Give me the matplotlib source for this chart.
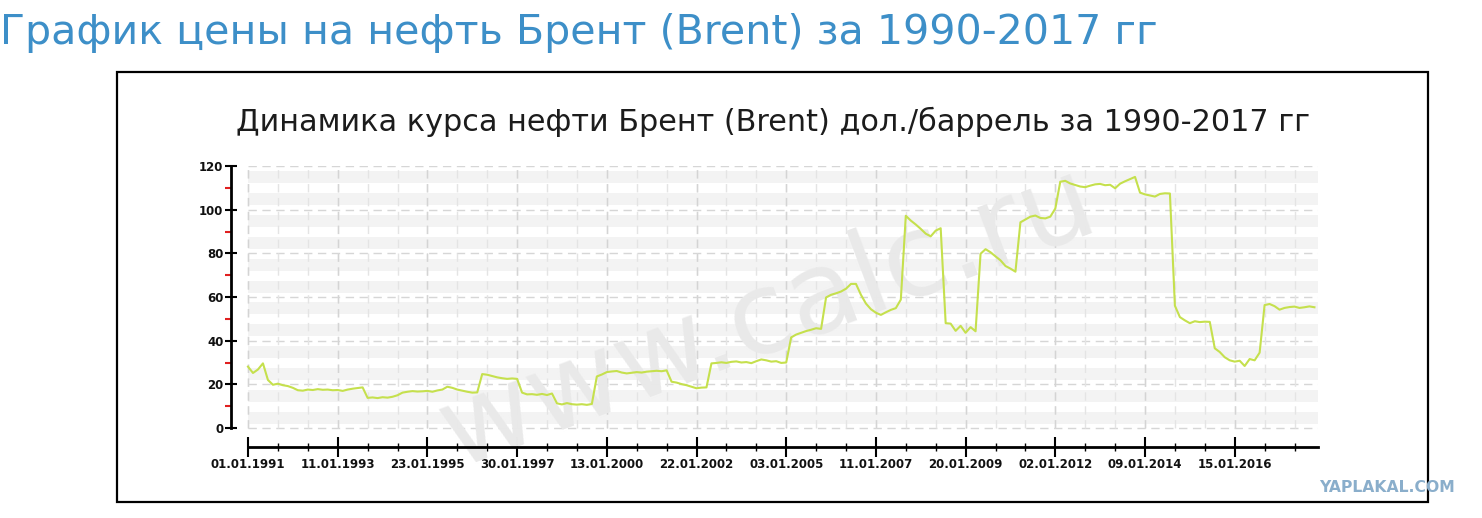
import numpy as np
import matplotlib
matplotlib.use("Agg")
import matplotlib.pyplot as plt
from matplotlib.patches import Rectangle

# Brent price (one value per ~1/18 of a label interval)
brent = [
    28.1, 25.2, 26.8, 29.6, 22.0, 19.8, 20.3, 19.6, 19.2, 18.4,
    17.3, 17.1, 17.6, 17.4, 17.8, 17.5, 17.6, 17.3, 17.4, 17.0,
    17.6, 18.0, 18.3, 18.6, 13.8, 14.0, 13.7, 14.1, 13.9, 14.3,
    15.0, 16.2, 16.6, 16.9, 16.7, 16.8, 17.0, 16.6, 17.2, 17.6,
    18.9, 18.4, 17.6, 17.1, 16.6, 16.2, 16.3, 24.7, 24.4, 23.8,
    23.2, 22.8, 22.5, 22.7, 22.5, 16.2, 15.4, 15.5, 15.2, 15.6,
    15.1, 15.8, 11.3, 10.8, 11.4, 10.9, 10.7, 10.9, 10.6, 11.0,
    23.6, 24.5, 25.6, 25.9, 26.1, 25.4, 25.0, 25.3, 25.6, 25.4,
    25.8, 26.0, 26.2, 26.0, 26.4, 21.2, 20.8, 20.1, 19.6, 18.9,
    18.2, 18.5, 18.6, 29.6, 29.8, 30.1, 29.8, 30.3, 30.5, 30.0,
    30.2, 29.7, 30.6, 31.4, 31.0, 30.4, 30.6, 29.8, 30.0, 41.5,
    42.8, 43.6, 44.4, 45.0, 45.7, 45.4, 59.8, 61.0, 61.7, 62.5,
    63.8, 66.0, 66.0, 61.0, 57.0, 54.4, 52.8, 51.8, 53.0, 54.1,
    54.9, 58.8, 97.2, 95.0, 93.2, 91.2, 89.0, 87.8, 90.4, 91.5,
    48.0, 47.8, 44.5, 46.8, 43.6, 46.2, 44.3, 79.8, 81.9, 80.5,
    78.6, 76.8, 74.2, 73.0, 71.6, 94.2, 95.5, 96.8, 97.3, 96.2,
    96.0, 96.8, 100.5, 112.8, 113.2, 112.0, 111.3, 110.6, 110.3, 111.0,
    111.6, 111.8, 111.2, 111.4, 109.8, 111.9, 113.0, 114.0, 115.0, 107.8,
    107.0, 106.5, 106.0, 107.2, 107.5, 107.4, 56.0, 50.8, 49.3, 48.0,
    48.9, 48.5, 48.7, 48.6, 36.5, 34.8, 32.4, 31.0, 30.4, 30.8,
    28.4, 31.6, 31.0, 34.5, 56.3, 56.8, 55.8, 54.2, 55.0, 55.4,
    55.6, 55.0, 55.3, 55.7, 55.3,
]

date_labels = ["01.01.1991", "11.01.1993", "23.01.1995", "30.01.1997",
               "13.01.2000", "22.01.2002", "03.01.2005", "11.01.2007",
               "20.01.2009", "02.01.2012", "09.01.2014", "15.01.2016"]
per_label = 18  # points between two date labels

y_major = [0, 20, 40, 60, 80, 100, 120]
y_minor = [10, 30, 50, 70, 90, 110]

W, H = 1482, 518
fig = plt.figure(figsize=(W / 100, H / 100), dpi=100)
fig.patch.set_facecolor("white")


def px(x, y):
    return x / W, 1 - y / H


# axes from the y axis line (x=231) to the end of the x axis (x=1318)
step_px = 89.7 / per_label
x_left = (231 - 248) / step_px
x_right = (1318 - 248) / step_px
y_bottom = -(447 - 428) / (262 / 120)
l, b = px(231, 447)
r, t = px(1318, 166)
ax = fig.add_axes([l, b, r - l, t - b])
ax.set_xlim(x_left, x_right)
ax.set_ylim(y_bottom, 120)
ax.set_facecolor("none")

# grey stripes
for k in range(12):
    ax.fill_between([0, x_right], 2 + 10 * k, 7.5 + 10 * k,
                    color="#f3f3f3", lw=0, zorder=0)

# dashed grid
ax.hlines(y_major, 0, x_right, colors="#d6d6d6", linestyles=(0, (6, 4)),
          lw=1, zorder=1)
minor_x = np.arange(0, x_right, per_label / 3)
ax.vlines(minor_x, 0, 120, colors="#e4e4e4", linestyles=(0, (6, 4)),
          lw=1, zorder=1)
major_x = np.arange(len(date_labels)) * per_label
ax.vlines(major_x, 0, 120, colors="#d4d4d4", linestyles=(0, (6, 4)),
          lw=1, zorder=1)

# watermark (inside the axes so the price line stays on top)
wm = ax.text(0.5, 0.5, "www.calc.ru", transform=fig.transFigure,
             fontsize=100, color="#e9e9e9", ha="center", va="center",
             zorder=2, clip_on=False)

ax.plot(np.arange(len(brent)), brent, color="#c5e04d", lw=1.5, zorder=3)

# axes look
for s in ["top", "right"]:
    ax.spines[s].set_visible(False)
ax.spines["left"].set_bounds(0, 120)
ax.spines["bottom"].set_bounds(0, x_right)
ax.spines["left"].set_linewidth(2)
ax.spines["bottom"].set_linewidth(2)

ax.set_yticks(y_major)
ax.set_yticks(y_minor, minor=True)
ax.set_xticks(major_x)
ax.set_xticklabels(date_labels)
ax.set_xticks(minor_x, minor=True)
ax.tick_params(axis="y", which="major", direction="inout", length=9,
               width=1.5, pad=1, labelsize=8.5)
ax.tick_params(axis="y", which="minor", direction="out", length=4,
               width=1.5, color="#e02020")
ax.tick_params(axis="x", which="major", direction="inout", length=14,
               width=1.5, pad=1, labelsize=8.5)
ax.tick_params(axis="x", which="minor", direction="inout", length=6,
               width=1)
for lab in ax.get_xticklabels() + ax.get_yticklabels():
    lab.set_fontweight("bold")
    lab.set_color("#111111")

# frame around the chart
x0, y0 = px(117, 502)
x1, y1 = px(1428, 72)
fig.add_artist(Rectangle((x0, y0), x1 - x0, y1 - y0, transform=fig.transFigure,
                         fill=False, ec="black", lw=1.6))

# titles
outer = fig.text(px(0, 0)[0], px(0, 33)[1], "График цены на нефть Брент (Brent) за 1990-2017 гг",
                 fontsize=30, color="#3d8fc8", ha="left", va="center")
inner = fig.text(px(773, 0)[0], px(0, 122)[1],
                 "Динамика курса нефти Брент (Brent) дол./баррель за 1990-2017 гг",
                 fontsize=20, color="#1c1c1c", ha="center", va="center")
mark = fig.text(px(1455, 0)[0], px(0, 488)[1], "YAPLAKAL.COM", fontsize=9,
                fontweight="bold", color="#8aaecb", ha="right", va="center")
wm.set_position(px(768, 318))

# fit text widths to the reference
renderer = fig.canvas.get_renderer()
for txt, target in [(outer, 1155), (inner, 1073), (mark, 135), (wm, 690)]:
    w = txt.get_window_extent(renderer).width
    txt.set_fontsize(txt.get_fontsize() * target / w)
wm.set_rotation(20.5)

fig.savefig("out.png", dpi=100)
